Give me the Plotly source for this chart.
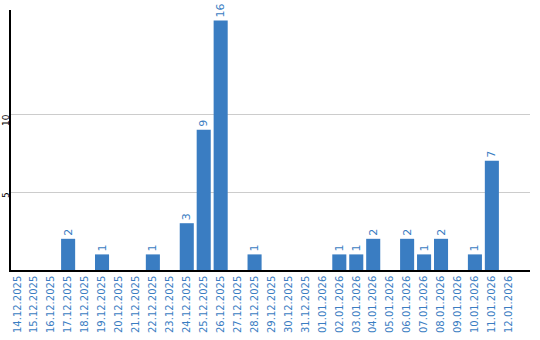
import plotly.graph_objects as go

dates = ["14.12.2025","15.12.2025","16.12.2025","17.12.2025","18.12.2025","19.12.2025",
         "20.12.2025","21.12.2025","22.12.2025","23.12.2025","24.12.2025","25.12.2025",
         "26.12.2025","27.12.2025","28.12.2025","29.12.2025","30.12.2025","31.12.2025",
         "01.01.2026","02.01.2026","03.01.2026","04.01.2026","05.01.2026","06.01.2026",
         "07.01.2026","08.01.2026","09.01.2026","10.01.2026","11.01.2026","12.01.2026"]
values = [0,0,0,2,0,1,0,0,1,0,3,9,16,0,1,0,0,0,0,1,1,2,0,2,1,2,0,1,7,0]
y_ticks = [5, 10]

blue = "#3a7dc2"
fig = go.Figure(go.Bar(
    x=list(range(len(dates))), y=values,
    marker=dict(color=blue, line=dict(width=0)),
    text=[str(v) if v else "" for v in values],
    textposition="outside", textangle=-90,
    textfont=dict(color=blue, size=11, family="DejaVu Sans"),
    cliponaxis=False,
))
fig.update_layout(
    width=540, height=340,
    margin=dict(l=11, r=10, t=10, b=70),
    paper_bgcolor="white", plot_bgcolor="white",
    bargap=0.17, showlegend=False,
    font=dict(family="DejaVu Sans"),
)
for t in y_ticks:
    fig.add_annotation(
        x=0, xref="paper", y=t, yref="y", text=str(t), showarrow=False,
        textangle=-90, xanchor="center", yanchor="top", xshift=-5, yshift=0,
        borderpad=0, borderwidth=0,
        font=dict(color="black", size=9, family="DejaVu Sans"),
    )
fig.update_xaxes(
    tickmode="array", tickvals=list(range(len(dates))), ticktext=dates,
    tickangle=-90, tickfont=dict(color=blue, size=10), automargin=False,
    range=[-0.37, 30.25], showline=True, linecolor="black", linewidth=1.5,
    showgrid=False, ticks="", zeroline=False,
)
fig.update_yaxes(
    range=[0, 16.67], tickvals=y_ticks, showticklabels=False, automargin=False,
    showline=True, linecolor="black", linewidth=1.5,
    showgrid=True, gridcolor="#cccccc", gridwidth=1, ticks="", zeroline=False,
)
fig.write_html("out.html")
